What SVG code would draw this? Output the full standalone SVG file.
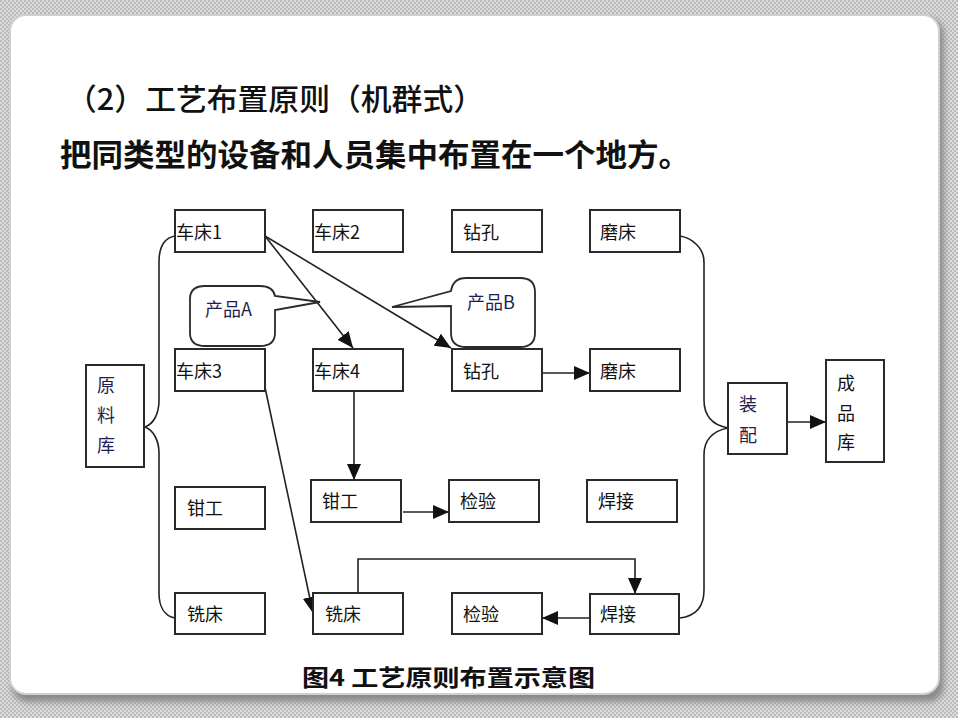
<svg xmlns="http://www.w3.org/2000/svg" width="958" height="718" viewBox="0 0 958 718">
<style>
.box{fill:#fff;stroke:#2a2a2a;stroke-width:2}
.lbl{font-family:"Noto Sans CJK SC","Liberation Sans",sans-serif;font-size:18px;fill:#111}
.nv{fill:#1e1e50}
.ln{fill:none;stroke:#222;stroke-width:1.6}
.arr{fill:none;stroke:#222;stroke-width:1.6;marker-end:url(#ah)}
.bub{fill:#fff;stroke:#2a2a2a;stroke-width:1.8}
</style>
<defs>
<pattern id="chk" width="4" height="4" patternUnits="userSpaceOnUse">
<rect width="4" height="4" fill="#dcdcdc"/>
<rect width="2" height="2" fill="#bcbcbc"/>
<rect x="2" y="2" width="2" height="2" fill="#bcbcbc"/>
</pattern>
<filter id="sh" x="-5%" y="-5%" width="110%" height="110%">
<feGaussianBlur stdDeviation="3"/>
</filter>
<marker id="ah" viewBox="0 0 16 14" refX="16" refY="7" markerWidth="16" markerHeight="14" markerUnits="userSpaceOnUse" orient="auto">
<path d="M0,0 L16,7 L0,14 Z" fill="#111"/>
</marker>
</defs>
<rect width="958" height="718" fill="url(#chk)"/>
<rect x="12" y="18" width="932" height="684" rx="16" fill="#8a8a8a" filter="url(#sh)"/>
<rect x="10" y="15" width="929" height="679" rx="16" fill="#fff" stroke="#d0d0d0" stroke-width="2"/>

<g id="title">
<text x="66" y="110" font-family="'Noto Sans CJK SC','Liberation Sans',sans-serif" font-size="30" font-weight="500" fill="#111" textLength="418" lengthAdjust="spacingAndGlyphs">（2）工艺布置原则（机群式）</text>
<text x="60" y="166" font-family="'Noto Sans CJK SC','Liberation Sans',sans-serif" font-size="31" font-weight="bold" fill="#111" textLength="630" lengthAdjust="spacingAndGlyphs">把同类型的设备和人员集中布置在一个地方。</text>
</g>

<g id="connectors">
<path class="ln" d="M175,236 C164,238 159,248 159,262 L159,400 C159,415 153,424 145,427 C153,430 159,440 159,453 L159,593 C159,606 164,616 175,618"/>
<path class="ln" d="M680,236 C692,238 704,248 704,262 L704,400 C704,415 712,425 728,428 C712,431 704,441 704,455 L704,590 C704,606 696,616 680,618"/>
<line class="arr" x1="265" y1="236" x2="353" y2="348"/>
<line class="arr" x1="265" y1="236" x2="451" y2="348"/>
<line class="arr" x1="542" y1="373" x2="590" y2="373"/>
<line class="arr" x1="354" y1="391" x2="354" y2="480"/>
<line class="arr" x1="403" y1="512" x2="449" y2="512"/>
<line class="arr" x1="263" y1="378" x2="313" y2="613"/>
<path class="arr" d="M358,594 V559 H635 V594"/>
<line class="arr" x1="590" y1="618" x2="542" y2="618"/>
<line class="arr" x1="787" y1="422" x2="826" y2="422"/>
</g>

<g id="bubbleA">
<path class="bub" d="M205,286 H260 Q273,286 275,296 L320,302 L275,310 V333 Q275,346 260,346 H205 Q190,346 190,333 V299 Q190,286 205,286 Z"/>
<text class="lbl nv" x="205" y="316">产品A</text>
</g>
<g id="bubbleB">
<path class="bub" d="M466,278 H520 Q535,278 535,292 V333 Q535,347 520,347 H466 Q451,347 451,333 V306 L392,307 L451,291 Q453,278 466,278 Z"/>
<text class="lbl nv" x="467" y="309">产品B</text>
</g>

<g id="n-chechuang1"><rect class="box" x="175" y="210" width="90" height="42"/><text class="lbl" x="176" y="239">车床1</text></g>
<g id="n-chechuang2"><rect class="box" x="313" y="210" width="90" height="42"/><text class="lbl" x="314" y="239">车床2</text></g>
<g id="n-zuankong1"><rect class="box" x="452" y="210" width="90" height="42"/><text class="lbl" x="463" y="239">钻孔</text></g>
<g id="n-mochuang1"><rect class="box" x="590" y="210" width="90" height="42"/><text class="lbl" x="600" y="239">磨床</text></g>

<g id="n-chechuang3"><rect class="box" x="175" y="349" width="90" height="42"/><text class="lbl" x="176" y="378">车床3</text></g>
<g id="n-chechuang4"><rect class="box" x="313" y="349" width="90" height="42"/><text class="lbl" x="314" y="378">车床4</text></g>
<g id="n-zuankong2"><rect class="box" x="452" y="349" width="90" height="42"/><text class="lbl" x="463" y="378">钻孔</text></g>
<g id="n-mochuang2"><rect class="box" x="590" y="349" width="90" height="42"/><text class="lbl" x="600" y="378">磨床</text></g>

<g id="n-yuanliaoku"><rect class="box" x="86" y="365" width="58" height="102"/>
<text class="lbl nv" x="106" y="392" text-anchor="middle" font-size="19">原</text>
<text class="lbl nv" x="106" y="422" text-anchor="middle" font-size="19">料</text>
<text class="lbl nv" x="106" y="452" text-anchor="middle" font-size="19">库</text></g>

<g id="n-qiangong1"><rect class="box" x="175" y="487" width="90" height="42"/><text class="lbl" x="187" y="515">钳工</text></g>
<g id="n-qiangong2"><rect class="box" x="311" y="480" width="90" height="42"/><text class="lbl" x="322" y="508">钳工</text></g>
<g id="n-jianyan1"><rect class="box" x="449" y="480" width="90" height="42"/><text class="lbl" x="460" y="508">检验</text></g>
<g id="n-hanjie1"><rect class="box" x="587" y="480" width="90" height="42"/><text class="lbl" x="598" y="508">焊接</text></g>

<g id="n-xichuang1"><rect class="box" x="175" y="593" width="90" height="41"/><text class="lbl" x="187" y="621">铣床</text></g>
<g id="n-xichuang2"><rect class="box" x="313" y="593" width="90" height="41"/><text class="lbl" x="325" y="621">铣床</text></g>
<g id="n-jianyan2"><rect class="box" x="452" y="593" width="90" height="41"/><text class="lbl" x="463" y="621">检验</text></g>
<g id="n-hanjie2"><rect class="box" x="590" y="594" width="89" height="40"/><text class="lbl" x="600" y="621">焊接</text></g>

<g id="n-zhuangpei"><rect class="box" x="728" y="383" width="59" height="71"/>
<text class="lbl nv" x="748" y="411" text-anchor="middle" font-size="19">装</text>
<text class="lbl nv" x="748" y="442" text-anchor="middle" font-size="19">配</text></g>

<g id="n-chengpinku"><rect class="box" x="826" y="360" width="58" height="102"/>
<text class="lbl" x="846" y="390" text-anchor="middle" font-size="19">成</text>
<text class="lbl" x="846" y="420" text-anchor="middle" font-size="19">品</text>
<text class="lbl" x="846" y="449" text-anchor="middle" font-size="19">库</text></g>

<g id="caption">
<text x="302" y="686" font-family="'Noto Sans CJK SC','Liberation Sans',sans-serif" font-size="23" font-weight="bold" fill="#111" textLength="293" lengthAdjust="spacingAndGlyphs">图4 工艺原则布置示意图</text>
</g>
</svg>
